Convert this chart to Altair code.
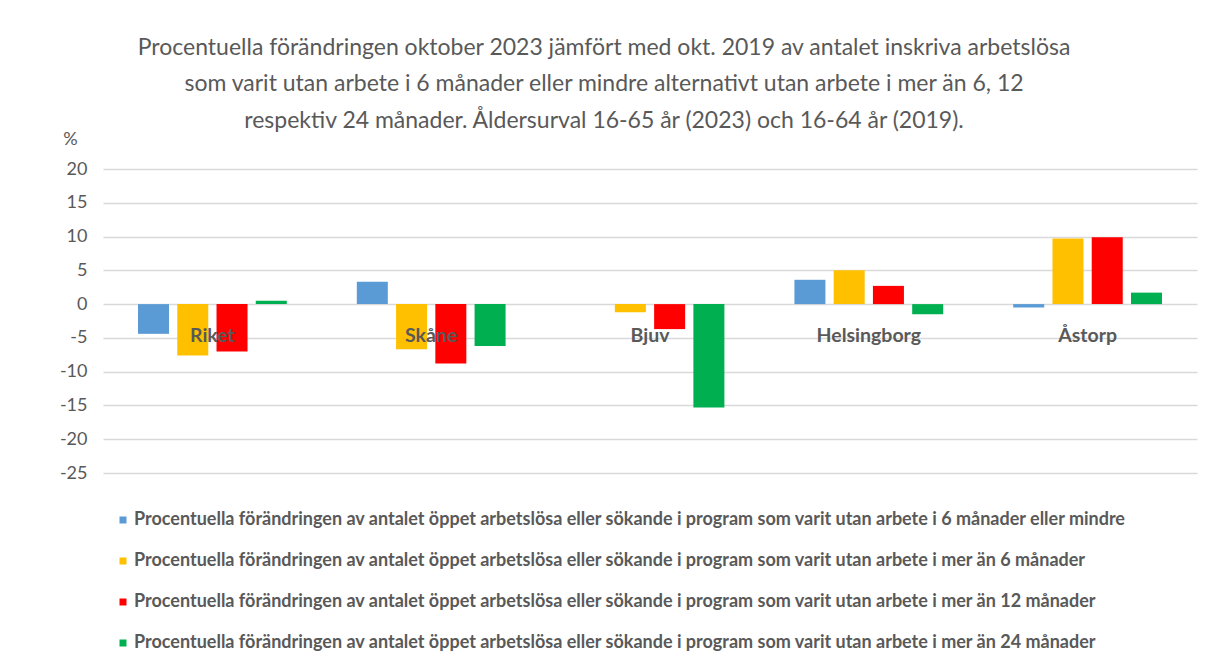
import altair as alt
import pandas as pd

categories = ["Riket", "Skåne", "Bjuv", "Helsingborg", "Åstorp"]
series = [
    "Procentuella förändringen av antalet öppet arbetslösa eller sökande i program som varit utan arbete i 6 månader eller mindre",
    "Procentuella förändringen av antalet öppet arbetslösa eller sökande i program som varit utan arbete i mer än 6 månader",
    "Procentuella förändringen av antalet öppet arbetslösa eller sökande i program som varit utan arbete i mer än 12 månader",
    "Procentuella förändringen av antalet öppet arbetslösa eller sökande i program som varit utan arbete i mer än 24 månader",
]
colors = ["#5B9BD5", "#FFC000", "#FF0000", "#00B050"]
v_6_or_less = [-4.4, 3.3, 0.0, 3.6, -0.5]
v_more_6 = [-7.6, -6.7, -1.2, 5.0, 9.7]
v_more_12 = [-7.0, -8.8, -3.7, 2.7, 9.9]
v_more_24 = [0.5, -6.2, -15.3, -1.5, 1.7]
y_ticks = [-25, -20, -15, -10, -5, 0, 5, 10, 15, 20]
title_lines = [
    "Procentuella förändringen oktober 2023 jämfört med okt. 2019 av antalet inskriva arbetslösa",
    "som varit utan arbete i 6 månader eller mindre alternativt utan arbete i mer än 6, 12",
    "respektiv 24 månader. Åldersurval 16-65 år (2023) och 16-64 år (2019).",
]

rows = []
for s, vals in zip(series, [v_6_or_less, v_more_6, v_more_12, v_more_24]):
    for c, v in zip(categories, vals):
        rows.append({"kategori": c, "serie": s, "värde": v})
df = pd.DataFrame(rows)
df_lab = pd.DataFrame({"kategori": categories})

FONT = "Lato"
GRAY = "#595959"

xscale = alt.Scale(domain=categories, paddingInner=0.32, paddingOuter=0.16)

bars = alt.Chart(df).mark_bar().encode(
    x=alt.X("kategori:N", sort=categories, scale=xscale, axis=None),
    xOffset=alt.XOffset("serie:N", sort=series, scale=alt.Scale(domain=series, paddingInner=0.21, paddingOuter=0)),
    y=alt.Y(
        "värde:Q",
        scale=alt.Scale(domain=[-25, 20], nice=False, zero=False),
        axis=alt.Axis(
            values=y_ticks,
            tickCount=len(y_ticks) + 2,
            labelExpr="datum.value",
            labelOverlap=False,
            title="%",
            titleAngle=0,
            titleX=-33,
            titleY=-30,
            titleAlign="center",
            titleBaseline="middle",
            titleFont=FONT,
            titleFontSize=18,
            titleFontWeight="normal",
            titleColor=GRAY,
            labelFont=FONT,
            labelFontSize=18,
            labelColor=GRAY,
            labelPadding=16,
            domain=False,
            ticks=False,
            grid=True,
            gridColor="#D9D9D9",
            gridWidth=1.5,
        ),
    ),
    color=alt.Color(
        "serie:N",
        sort=series,
        scale=alt.Scale(domain=series, range=colors),
        legend=alt.Legend(
            title=None,
            orient="none",
            legendX=11,
            legendY=342,
            direction="vertical",
            symbolType="square",
            symbolSize=49,
            symbolStrokeWidth=0,
            labelFont=FONT,
            labelFontSize=18,
            labelFontWeight="bold",
            labelColor=GRAY,
            labelLimit=1150,
            labelOffset=2,
            rowPadding=23,
        ),
    ),
)

labels = alt.Chart(df_lab).mark_text(
    font=FONT, fontSize=19.5, fontWeight="bold", color=GRAY, baseline="middle", align="center"
).encode(
    x=alt.X("kategori:N", sort=categories, scale=xscale, axis=None),
    y=alt.datum(-4.75),
    text="kategori:N",
)

chart = (
    alt.layer(bars, labels)
    .properties(
        width=1094,
        height=304,
        background="white",
        autosize=alt.AutoSizeParams(type="none"),
        padding={"left": 95, "top": 161, "right": 3, "bottom": 185},
        title=alt.TitleParams(
            text=title_lines,
            font=FONT,
            fontSize=23,
            fontWeight="normal",
            color=GRAY,
            lineHeight=36.7,
            anchor="middle",
            frame="group",
            dx=-46,
            offset=-3,
        ),
    )
    .configure_view(stroke="transparent", strokeWidth=0)
)

chart.save("out.html", embed_options={"renderer": "svg", "actions": False})
